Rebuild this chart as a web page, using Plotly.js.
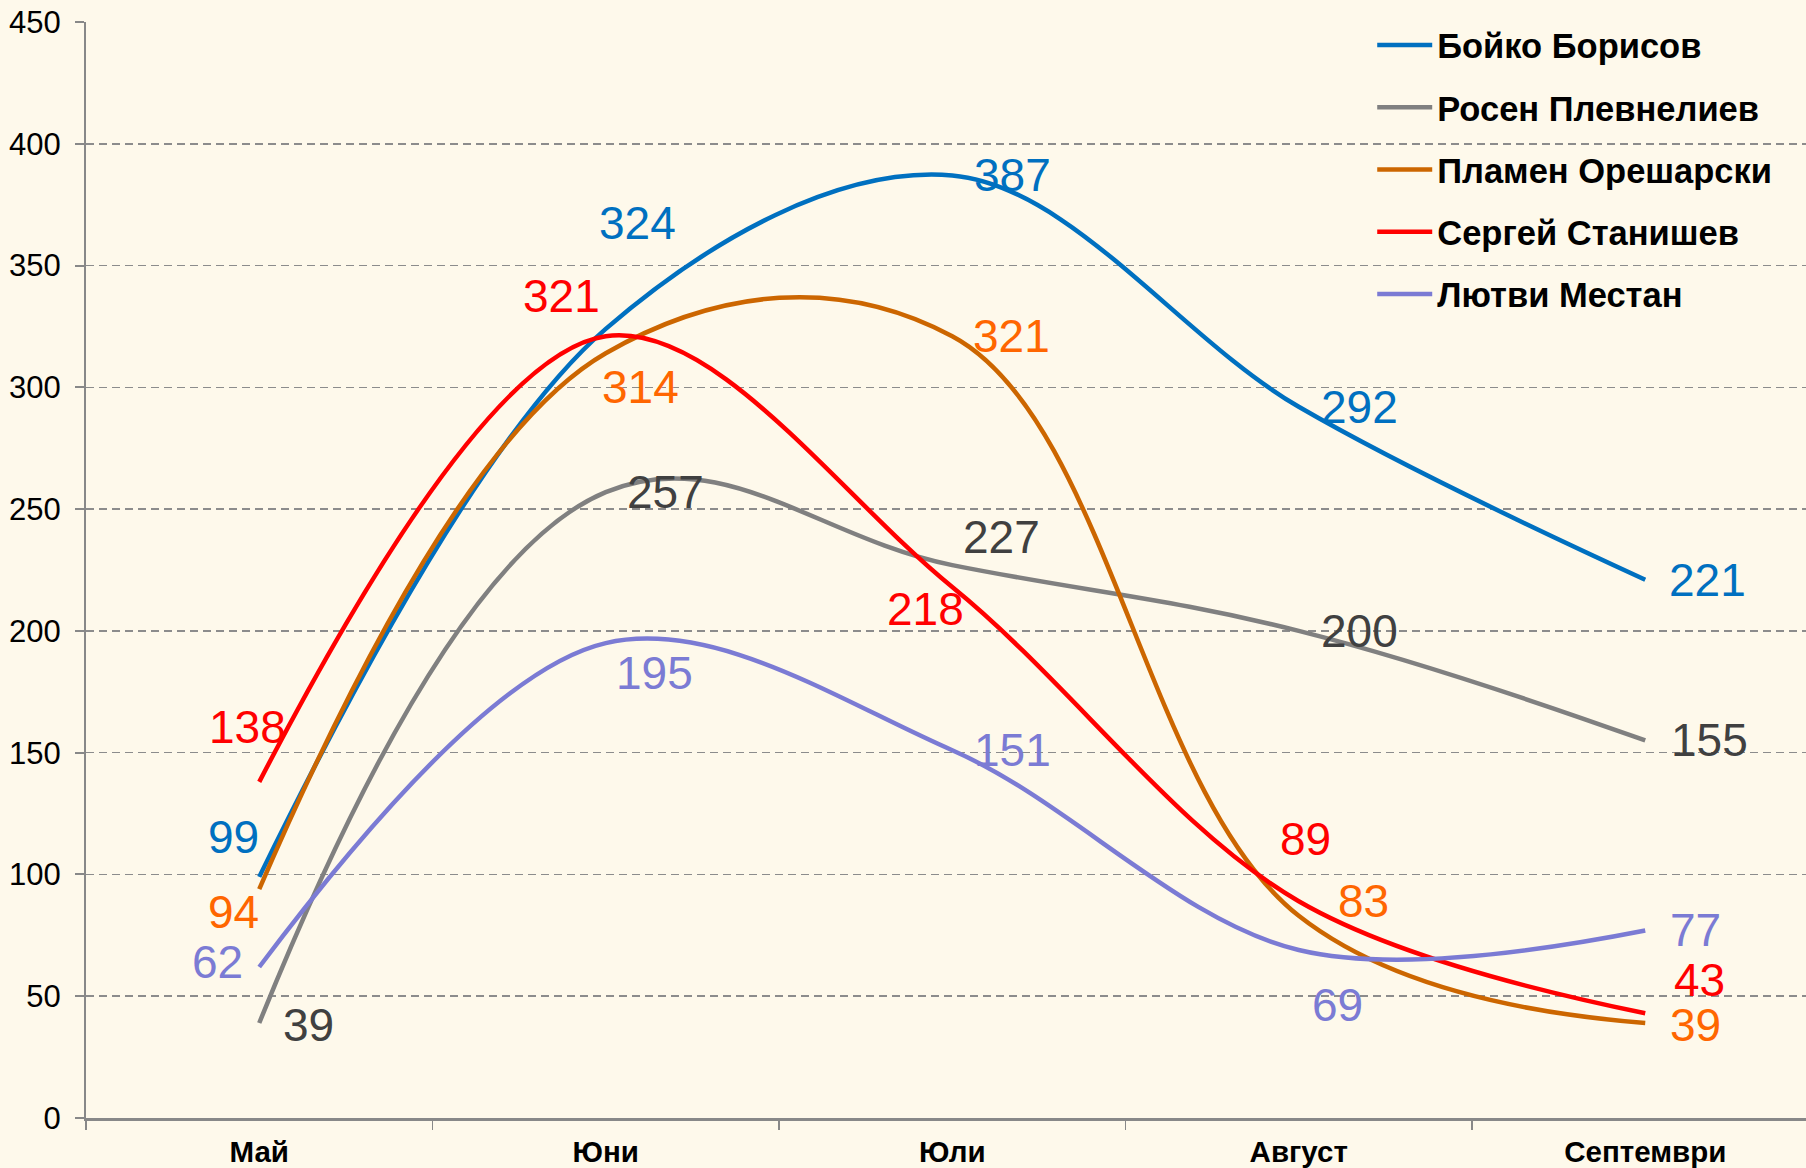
<!DOCTYPE html>
<html>
<head>
<meta charset="utf-8">
<script src="https://cdn.plot.ly/plotly-3.0.1.min.js"></script>
<style>
  html, body { margin: 0; padding: 0; background: #FEF9EB; }
  #chart { width: 1806px; height: 1168px; }
</style>
</head>
<body>
<div id="chart"></div>
<script>
// месеци
const meseci = ["Май", "Юни", "Юли", "Август", "Септември"];

// стойности по месеци
const borisov = [99, 324, 387, 292, 221];
const plevneliev = [39, 257, 227, 200, 155];
const oresharski = [94, 314, 321, 83, 39];
const stanishev = [138, 321, 218, 89, 43];
const mestan = [62, 195, 151, 69, 77];

const imena = ["Бойко Борисов", "Росен Плевнелиев", "Пламен Орешарски", "Сергей Станишев", "Лютви Местан"];

// цветове: линия и етикет
const lineColors = ["#0070C0", "#808080", "#CC6600", "#FF0000", "#7B7BD4"];
const labelColors = ["#0070C0", "#404040", "#FF6600", "#FF0000", "#7B7BD4"];
// заглаждане на всяка линия
const smooth = [1, 1.15, 1.1, 1, 1];

// отместване на етикетите в пиксели [dx, dy] (dy надолу)
const offsets = [
  [[-26, -40], [32, -106], [60, 0], [61, 0], [62, 0]],
  [[49, 2], [60, 0], [49, -28], [61, 0], [64, 0]],
  [[-26, 23], [35, 34], [59, 0], [65, -15], [50, 2]],
  [[-12, -55], [-44, -40], [-27, 22], [7, -62], [54, -33]],
  [[-42, -5], [49, 30], [60, 0], [39, 55], [50, 0]]
];

const series = [borisov, plevneliev, oresharski, stanishev, mestan];

const data = [];
const annotations = [];
for (let s = 0; s < series.length; s++) {
  data.push({
    x: meseci,
    y: series[s],
    type: "scatter",
    mode: "lines",
    name: imena[s],
    legendgroup: "g" + s,
    line: {color: lineColors[s], width: 4.5, shape: "spline", smoothing: smooth[s]},
    hoverinfo: "skip"
  });
  for (let i = 0; i < meseci.length; i++) {
    annotations.push({
      x: meseci[i],
      y: series[s][i],
      xref: "x", yref: "y",
      text: String(series[s][i]),
      showarrow: false,
      xanchor: "center", yanchor: "middle",
      xshift: offsets[s][i][0],
      yshift: -offsets[s][i][1],
      font: {family: "Liberation Sans, Arial, sans-serif", size: 46, color: labelColors[s]}
    });
  }
}

const layout = {
  width: 1806,
  height: 1168,
  margin: {l: 86, r: 0, t: 22, b: 50},
  paper_bgcolor: "#FEF9EB",
  plot_bgcolor: "#FEF9EB",
  font: {family: "Liberation Sans, Arial, sans-serif", color: "#000"},
  showlegend: true,
  legend: {
    x: 0.7478, y: 1.0055, xanchor: "left", yanchor: "top",
    bgcolor: "rgba(0,0,0,0)",
    itemwidth: 55,
    font: {family: "Liberation Sans, Arial, sans-serif", size: 34.5, weight: "bold", color: "#000"},
    tracegroupgap: 14.4
  },
  xaxis: {
    type: "category",
    range: [-0.5, 4.464],
    tickson: "boundaries",
    ticks: "outside",
    ticklen: 9,
    tickwidth: 1.5,
    tickcolor: "#888",
    showline: true,
    linecolor: "#888",
    linewidth: 2.5,
    showgrid: false,
    ticklabelstandoff: 6,
    tickfont: {size: 29.5, weight: "bold", color: "#000"}
  },
  yaxis: {
    range: [0, 450],
    dtick: 50,
    ticks: "outside",
    ticklen: 9,
    tickwidth: 2,
    tickcolor: "#888",
    showline: true,
    linecolor: "#888",
    linewidth: 2,
    zeroline: false,
    gridcolor: "#8c8c8c",
    gridwidth: 1.6,
    griddash: "8px,5px",
    ticklabelstandoff: 8,
    tickfont: {size: 31, color: "#000"}
  },
  annotations: annotations
};

Plotly.newPlot("chart", data, layout, {staticPlot: true});
</script>
</body>
</html>
